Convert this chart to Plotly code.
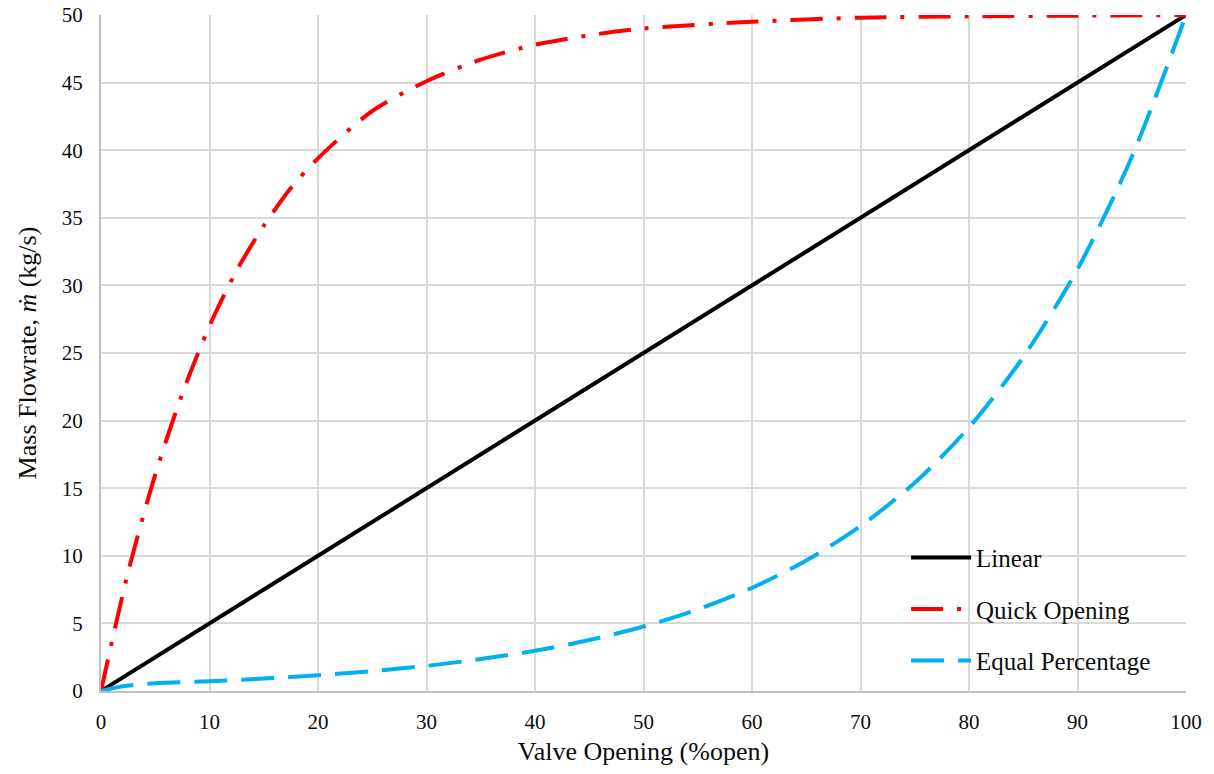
import plotly.graph_objects as go

# Valve opening (% open) and mass flowrate (kg/s) for three valve characteristics
linear_x = [0, 100]
linear_y = [0, 50]

quick_x = [0, 2.5, 5, 7.5, 10, 12.5, 15, 17.5, 20, 25, 30, 35, 40, 45, 50, 60, 70, 80, 90, 100]
quick_y = [0, 8.8, 16.0, 22.0, 27.0, 31.1, 34.4, 37.2, 39.4, 42.9, 45.1, 46.7, 47.8, 48.5, 49.0,
           49.5, 49.8, 49.9, 49.95, 50]

equal_x = [0, 2, 5, 10, 15, 20, 25, 30, 35, 40, 45, 50, 55, 60, 65, 70, 75, 80, 85, 90, 95, 100]
equal_y = [0, 0.35, 0.57, 0.72, 0.92, 1.16, 1.47, 1.86, 2.36, 2.98, 3.77, 4.77, 6.03, 7.63,
           9.65, 12.2, 15.4, 19.5, 24.7, 31.2, 39.5, 50]

x_ticks = [0, 10, 20, 30, 40, 50, 60, 70, 80, 90, 100]
y_ticks = [0, 5, 10, 15, 20, 25, 30, 35, 40, 45, 50]

FONT = "Liberation Serif, Times New Roman, serif"
TEXT = "#0d0d0d"

fig = go.Figure()
fig.add_trace(go.Scatter(
    x=linear_x, y=linear_y, mode="lines", name="Linear",
    line=dict(color="black", width=4), legendgroup="a"))
fig.add_trace(go.Scatter(
    x=quick_x, y=quick_y, mode="lines", name="Quick Opening",
    line=dict(color="#ff0000", width=4, shape="spline", smoothing=0.8,
              dash="32px,14px,4px,14px"), legendgroup="b"))
fig.add_trace(go.Scatter(
    x=equal_x, y=equal_y, mode="lines", name="Equal Percentage",
    line=dict(color="#00b0f0", width=4, shape="spline", smoothing=0.8,
              dash="33px,14px"), legendgroup="c"))

fig.update_layout(
    width=1214, height=774,
    margin=dict(l=101, r=28, t=15, b=83),
    paper_bgcolor="white", plot_bgcolor="white",
    font=dict(family=FONT, size=21, color=TEXT),
    showlegend=True,
    legend=dict(x=0.742, y=0.231, xanchor="left", yanchor="top",
                bgcolor="rgba(0,0,0,0)", font=dict(family=FONT, size=25, color=TEXT),
                itemwidth=60, tracegroupgap=16, traceorder="grouped"),
    xaxis=dict(range=[0, 100], tickvals=x_ticks, showgrid=True, gridcolor="#d9d9d9", gridwidth=2,
               showline=True, linecolor="#bfbfbf", linewidth=2, zeroline=False,
               ticks="", tickfont=dict(size=21), ticklabelstandoff=11, automargin=False,
               title=dict(text="Valve Opening (%open)", font=dict(size=26), standoff=9)),
    yaxis=dict(range=[0, 50], tickvals=y_ticks, showgrid=True, gridcolor="#d9d9d9", gridwidth=2,
               showline=True, linecolor="#bfbfbf", linewidth=2, zeroline=False,
               ticks="", tickfont=dict(size=21), ticklabelstandoff=12, automargin=False,
               title=dict(text="Mass Flowrate, <i>ṁ</i> (kg/s)", font=dict(size=26), standoff=18)),
)

fig.write_html("out.html")
